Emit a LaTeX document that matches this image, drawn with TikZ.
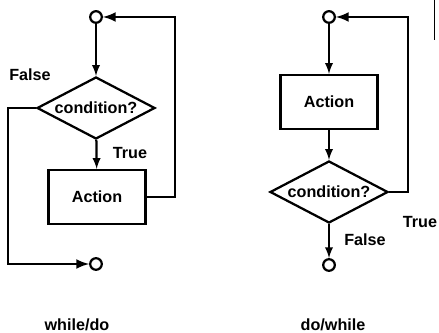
\documentclass[tikz,border=0pt]{standalone}
\usepackage{fontspec}
\setmainfont{Liberation Sans}
\usetikzlibrary{shapes.geometric}

\tikzset{
  >=latex,
  flow/.style={line width=1.6pt},
  loopline/.style={line width=2.1pt},
  terminal/.style={circle, draw, line width=1.6pt, minimum size=0.29cm, inner sep=0pt},
  test/.style={diamond, draw, line width=1.6pt, aspect=1.9, inner sep=0pt,
    minimum width=2.95cm, minimum height=1.55cm},
  actionbox/.style={rectangle, draw, line width=1.6pt, minimum width=2.42cm, minimum height=1.35cm},
  lbl/.style={inner sep=0pt}
}

\begin{document}
\begin{tikzpicture}[x=0.025cm, y=-0.025cm, font=\bfseries\fontsize{11.5}{13}\selectfont]
            \useasboundingbox (0,0) rectangle (439,333);

            % while/do
            \node[terminal] (c1) at (96,17) {};
            \node[test] (d1) at (96,108) {condition?};
            \node[actionbox] (a1) at (97,197) {Action};
            \node[terminal] (c2) at (96,264) {};
            \coordinate (r1) at (175,0);
            \coordinate (l1) at (8,0);

            \draw[flow, ->] (c1) -- (d1);
            \draw[flow, ->] (d1) -- (a1);
            \draw[loopline, ->] (a1.east) -- (a1.east -| r1) |- (c1.east);
            \draw[loopline, ->] (d1.west) -- (d1.west -| l1) |- (c2.west);

            \node[lbl] (f1) at (30,75) {False};
            \node[lbl] (t1) at (130,153) {True};
            \node[lbl] (n1) at (77,325) {while/do};

            % do/while
            \node[terminal] (c3) at (329,17) {};
            \node[actionbox] (a2) at (329,102) {Action};
            \node[test] (d2) at (329,192) {condition?};
            \node[terminal] (c4) at (329,265) {};
            \coordinate (r2) at (408,0);

            \draw[flow, ->] (c3) -- (a2);
            \draw[flow, ->] (a2) -- (d2);
            \draw[flow, ->] (d2) -- (c4);
            \draw[loopline, ->] (d2.east) -- (d2.east -| r2) |- (c3.east);

            \node[lbl] (t2) at (420,222) {True};
            \node[lbl] (f2) at (365,240) {False};
            \node[lbl] (n2) at (333,325) {do/while};

            % edge mark
            \draw[thin] (434,0) -- (434,40);
\end{tikzpicture}
\end{document}
